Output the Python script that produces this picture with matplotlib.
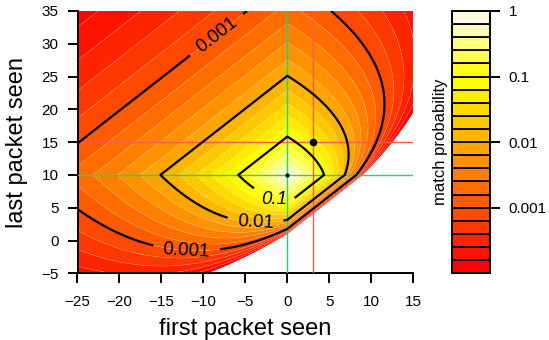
import colorsys
import numpy as np
import matplotlib
matplotlib.use("Agg")
import matplotlib.pyplot as plt

plt.rcParams["font.family"] = ["Liberation Sans", "DejaVu Sans"]
plt.rcParams["contour.negative_linestyle"] = "solid"

# ── data ──────────────────────────────────────────────────────────────────────
x_range = [-25, 15]          # first packet seen
y_range = [-5, 35]           # last packet seen
ref_first, ref_last = 0, 10  # reference flow (green cross)
cand_first, cand_last = 3, 15  # candidate flow (red cross)
n_span = 5                   # exponent on ref duration / union span
n_overlap = 4                # exponent on candidate duration / union span

log_levels = np.linspace(-4, 0, 21)        # filled bands, log10(prob)
line_levels = [-3, -2, -1]
line_fmt = {-3: "0.001", -2: "0.01", -1: "0.1"}
key_ticks = [0, -1, -2, -3]
key_labels = ["1", "0.1", "0.01", "0.001"]
x_ticks = [-25, -20, -15, -10, -5, 0, 5, 10, 15]
y_ticks = [-5, 0, 5, 10, 15, 20, 25, 30, 35]

# where the contour labels sit (data coords)
label_spots = [(-8.5, 31.5), (-12.0, -1.0), (-3.8, 3.0), (-1.4, 6.8)]

GREEN = "#22d46e"
RED = "#ff5a4a"
W, H = 549, 340


def heat_colors(n):
    """R's heat.colors(n)."""
    j = n // 4
    i = n - j
    cols = [colorsys.hsv_to_rgb(h, 1, 1) for h in np.linspace(0, 1 / 6, i)]
    cols += [colorsys.hsv_to_rgb(1 / 6, s, 1)
             for s in np.linspace(1 - 1 / (2 * j), 1 / (2 * j), j)]
    return cols


def match_prob(first, last):
    """log10 match probability for a flow seen from `first` to `last`."""
    span = np.maximum(last, ref_last) - np.minimum(first, ref_first)
    dur = last - first
    with np.errstate(divide="ignore", invalid="ignore"):
        z = (n_span * np.log10((ref_last - ref_first) / span)
             + n_overlap * np.log10(dur / span))
    z[dur <= 0] = np.nan
    return z


cols = heat_colors(len(log_levels) - 1)
gx = np.linspace(x_range[0], x_range[1], 801)
gy = np.linspace(y_range[0], y_range[1], 801)
X, Y = np.meshgrid(gx, gy)
Z = match_prob(X, Y)

fig = plt.figure(figsize=(W / 100, H / 100), dpi=100)
ax = fig.add_axes([77.5 / W, 1 - 273.3 / H, (413.3 - 77.5) / W, (273.3 - 11) / H])

ax.contourf(X, Y, Z, levels=log_levels, colors=cols, antialiased=True)
# faint seams between the bands
ax.contour(X, Y, Z, levels=log_levels[:-1], colors=[(1, 1, 1, 0.22)],
           linewidths=0.5, linestyles="dashed")

ax.axvline(ref_first, color=GREEN, lw=1.0, zorder=3)
ax.axhline(ref_last, color=GREEN, lw=1.0, zorder=3)
ax.axvline(cand_first, color=RED, lw=1.0, zorder=3)
ax.axhline(cand_last, color=RED, lw=1.0, zorder=3)

cs = ax.contour(X, Y, Z, levels=line_levels, colors="black", linewidths=1.6,
                linestyles="solid", zorder=4)
labels = ax.clabel(cs, fmt=line_fmt, manual=label_spots, inline=True,
                   inline_spacing=10, fontsize=13.5)
for t in labels:
    if t.get_text() == "0.1":
        t.set_rotation(0)
        t.set_style("italic")

ax.plot(cand_first, cand_last, "o", color="black", ms=4.5, zorder=5)
ax.plot(ref_first, ref_last, "o", color="black", ms=2, zorder=5)

ax.set_xlim(x_range)
ax.set_ylim(y_range)
ax.set_xticks(x_ticks)
ax.set_yticks(y_ticks)
ax.spines[["top", "right"]].set_visible(False)
for s in ("left", "bottom"):
    ax.spines[s].set_linewidth(1.4)
ax.tick_params(direction="out", length=7.5, width=1.4, labelsize=11)
ax.tick_params(axis="x", pad=8)
ax.tick_params(axis="y", pad=6)

fig.text(245.4 / W, 1 - 329 / H, "first packet seen", ha="center",
         va="center", fontsize=17)
fig.text(17.5 / W, 1 - 142 / H, "last packet seen", ha="center",
         va="center", rotation=90, fontsize=17)

# ── colour key ────────────────────────────────────────────────────────────────
cax = fig.add_axes([452.3 / W, 1 - 273.3 / H, (490 - 452.3) / W, (273.3 - 11) / H])
for k in range(len(cols)):
    cax.bar(0.5, log_levels[k + 1] - log_levels[k], bottom=log_levels[k],
            width=1, color=cols[k], edgecolor="black", linewidth=1.3)
cax.set_xlim(0, 1)
cax.set_ylim(log_levels[0], log_levels[-1])
cax.set_xticks([])
cax.yaxis.tick_right()
cax.set_yticks(key_ticks, key_labels)
for s in cax.spines.values():
    s.set_linewidth(1.4)
cax.tick_params(axis="y", direction="out", length=7.5, width=1.4,
                labelsize=11, pad=6)
fig.text(440 / W, 1 - 142 / H, "match probability", ha="center",
         va="center", rotation=90, fontsize=12)

fig.savefig("out.png", dpi=100)
